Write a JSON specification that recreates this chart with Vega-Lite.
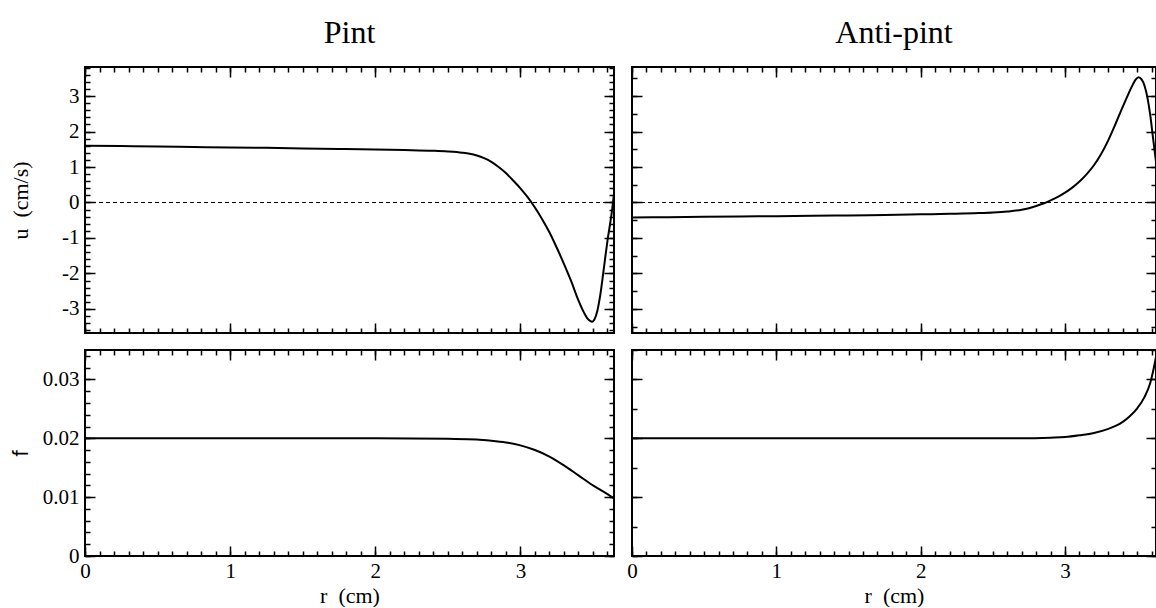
{
  "$schema": "https://vega.github.io/schema/vega-lite/v6.json",
  "background": "white",
  "padding": {"left": 8, "top": 16, "right": 0, "bottom": 0},
  "bounds": "flush",
  "columns": 2,
  "spacing": {"row": 17, "column": 18},
  "datasets": {
    "pint_u": [
      {"r": 0, "u": 1.6}, {"r": 0.25, "u": 1.59}, {"r": 0.5, "u": 1.58}, {"r": 0.75, "u": 1.565}, {"r": 1.0, "u": 1.55},
      {"r": 1.25, "u": 1.54}, {"r": 1.5, "u": 1.525}, {"r": 1.75, "u": 1.51}, {"r": 2.0, "u": 1.495}, {"r": 2.2, "u": 1.48},
      {"r": 2.4, "u": 1.46}, {"r": 2.5, "u": 1.44}, {"r": 2.6, "u": 1.405}, {"r": 2.65, "u": 1.375}, {"r": 2.7, "u": 1.325},
      {"r": 2.75, "u": 1.25}, {"r": 2.8, "u": 1.145}, {"r": 2.85, "u": 1.0}, {"r": 2.9, "u": 0.83}, {"r": 2.95, "u": 0.62},
      {"r": 3.0, "u": 0.4}, {"r": 3.05, "u": 0.15}, {"r": 3.1, "u": -0.14}, {"r": 3.15, "u": -0.47}, {"r": 3.2, "u": -0.84},
      {"r": 3.25, "u": -1.27}, {"r": 3.3, "u": -1.73}, {"r": 3.35, "u": -2.22}, {"r": 3.4, "u": -2.76}, {"r": 3.44, "u": -3.12},
      {"r": 3.46, "u": -3.26}, {"r": 3.48, "u": -3.34}, {"r": 3.495, "u": -3.36}, {"r": 3.51, "u": -3.3}, {"r": 3.53, "u": -3.06},
      {"r": 3.55, "u": -2.62}, {"r": 3.58, "u": -1.7}, {"r": 3.6, "u": -1.08}, {"r": 3.62, "u": -0.55}, {"r": 3.63, "u": -0.27},
      {"r": 3.645, "u": 0.25}
    ],
    "anti_u": [
      {"r": 0, "u": -0.42}, {"r": 0.25, "u": -0.415}, {"r": 0.5, "u": -0.405}, {"r": 0.75, "u": -0.395}, {"r": 1.0, "u": -0.385},
      {"r": 1.25, "u": -0.375}, {"r": 1.5, "u": -0.365}, {"r": 1.75, "u": -0.35}, {"r": 2.0, "u": -0.335}, {"r": 2.2, "u": -0.32},
      {"r": 2.4, "u": -0.3}, {"r": 2.5, "u": -0.283}, {"r": 2.6, "u": -0.255}, {"r": 2.7, "u": -0.205}, {"r": 2.75, "u": -0.16},
      {"r": 2.8, "u": -0.1}, {"r": 2.85, "u": -0.03}, {"r": 2.9, "u": 0.06}, {"r": 2.95, "u": 0.16}, {"r": 3.0, "u": 0.28},
      {"r": 3.05, "u": 0.42}, {"r": 3.1, "u": 0.59}, {"r": 3.15, "u": 0.8}, {"r": 3.2, "u": 1.05}, {"r": 3.25, "u": 1.37},
      {"r": 3.3, "u": 1.76}, {"r": 3.35, "u": 2.22}, {"r": 3.4, "u": 2.7}, {"r": 3.44, "u": 3.07}, {"r": 3.47, "u": 3.33},
      {"r": 3.49, "u": 3.47}, {"r": 3.51, "u": 3.53}, {"r": 3.53, "u": 3.47}, {"r": 3.55, "u": 3.3}, {"r": 3.57, "u": 2.97},
      {"r": 3.59, "u": 2.47}, {"r": 3.61, "u": 1.8}, {"r": 3.63, "u": 1.15}
    ],
    "pint_f": [
      {"r": 0, "f": 0.02}, {"r": 1.0, "f": 0.02}, {"r": 2.0, "f": 0.02}, {"r": 2.5, "f": 0.0199}, {"r": 2.7, "f": 0.0198},
      {"r": 2.8, "f": 0.0196}, {"r": 2.9, "f": 0.0193}, {"r": 3.0, "f": 0.0188}, {"r": 3.1, "f": 0.018}, {"r": 3.2, "f": 0.0169},
      {"r": 3.3, "f": 0.0154}, {"r": 3.4, "f": 0.0137}, {"r": 3.5, "f": 0.012}, {"r": 3.6, "f": 0.0105}, {"r": 3.645, "f": 0.0098}
    ],
    "anti_f": [
      {"r": 0, "f": 0.02}, {"r": 1.0, "f": 0.02}, {"r": 2.0, "f": 0.02}, {"r": 2.7, "f": 0.02}, {"r": 2.9, "f": 0.0201},
      {"r": 3.0, "f": 0.0202}, {"r": 3.1, "f": 0.0205}, {"r": 3.2, "f": 0.0209}, {"r": 3.3, "f": 0.0216}, {"r": 3.35, "f": 0.0221},
      {"r": 3.4, "f": 0.0228}, {"r": 3.45, "f": 0.0238}, {"r": 3.5, "f": 0.0251}, {"r": 3.55, "f": 0.027}, {"r": 3.59, "f": 0.0294},
      {"r": 3.61, "f": 0.0314}, {"r": 3.63, "f": 0.0338}
    ],
    "zero": [{"u": 0}]
  },
  "concat": [
    {
      "width": 529, "height": 266,
      "title": {"text": "Pint", "font": "Liberation Serif", "fontSize": 32, "fontWeight": "normal", "color": "black", "offset": 16, "anchor": "middle"},
      "layer": [
        {
          "data": {"name": "zero"},
          "mark": {"type": "rule", "color": "black", "strokeWidth": 1.2, "strokeDash": [4, 3]},
          "encoding": {"y": {"field": "u", "type": "quantitative", "axis": null, "scale": {"domain": [-3.68, 3.82], "nice": false, "zero": false}}}
        },
        {
          "data": {"name": "pint_u"},
          "mark": {"type": "line", "color": "black", "strokeWidth": 2, "clip": true, "interpolate": "monotone"},
          "encoding": {
            "x": {"field": "r", "type": "quantitative", "scale": {"domain": [0, 3.645], "nice": false, "zero": false},
              "axis": {"orient": "bottom", "values": [0, 1, 2, 3], "tickSize": -10, "labels": false, "title": null}},
            "y": {"field": "u", "type": "quantitative", "scale": {"domain": [-3.68, 3.82], "nice": false, "zero": false},
              "axis": {"orient": "left", "values": [-3, -2, -1, 0, 1, 2, 3], "tickSize": -10, "labelPadding": 16, "labelExpr": "'' + datum.value",
                "title": "u\u2002(cm/s)", "titleX": -65, "titleBaseline": "middle", "titleAlign": "center"}}
          }
        },
        {
          "data": {"name": "pint_u"},
          "mark": {"type": "line", "opacity": 0},
          "encoding": {
            "x": {"field": "r", "type": "quantitative", "axis": {"orient": "bottom", "tickCount": 40, "tickSize": -5, "labels": false, "title": null}},
            "y": {"field": "u", "type": "quantitative", "axis": {"orient": "left", "tickCount": 40, "tickSize": -5, "labels": false, "title": null}}
          }
        },
        {
          "data": {"name": "pint_u"},
          "mark": {"type": "line", "opacity": 0},
          "encoding": {
            "x": {"field": "r", "type": "quantitative", "axis": {"orient": "top", "values": [0, 1, 2, 3], "tickSize": -10, "labels": false, "title": null}},
            "y": {"field": "u", "type": "quantitative", "axis": {"orient": "right", "values": [-3, -2, -1, 0, 1, 2, 3], "tickSize": -10, "labels": false, "title": null}}
          }
        },
        {
          "data": {"name": "pint_u"},
          "mark": {"type": "line", "opacity": 0},
          "encoding": {
            "x": {"field": "r", "type": "quantitative", "axis": {"orient": "top", "tickCount": 40, "tickSize": -5, "labels": false, "title": null}},
            "y": {"field": "u", "type": "quantitative", "axis": {"orient": "right", "tickCount": 40, "tickSize": -5, "labels": false, "title": null}}
          }
        }
      ],
      "resolve": {"axis": {"x": "independent", "y": "independent"}}
    },
    {
      "width": 524, "height": 266,
      "title": {"text": "Anti-pint", "font": "Liberation Serif", "fontSize": 32, "fontWeight": "normal", "color": "black", "offset": 16, "anchor": "middle"},
      "layer": [
        {
          "data": {"name": "zero"},
          "mark": {"type": "rule", "color": "black", "strokeWidth": 1.2, "strokeDash": [4, 3]},
          "encoding": {"y": {"field": "u", "type": "quantitative", "axis": null, "scale": {"domain": [-3.68, 3.82], "nice": false, "zero": false}}}
        },
        {
          "data": {"name": "anti_u"},
          "mark": {"type": "line", "color": "black", "strokeWidth": 2, "clip": true, "interpolate": "monotone"},
          "encoding": {
            "x": {"field": "r", "type": "quantitative", "scale": {"domain": [0, 3.63], "nice": false, "zero": false},
              "axis": {"orient": "bottom", "values": [0, 1, 2, 3], "tickSize": -10, "labels": false, "title": null}},
            "y": {"field": "u", "type": "quantitative", "scale": {"domain": [-3.68, 3.82], "nice": false, "zero": false},
              "axis": {"orient": "left", "values": [-3, -2, -1, 0, 1, 2, 3], "tickSize": -10, "labels": false, "title": null}}
          }
        },
        {
          "data": {"name": "anti_u"},
          "mark": {"type": "line", "opacity": 0},
          "encoding": {
            "x": {"field": "r", "type": "quantitative", "axis": {"orient": "bottom", "tickCount": 40, "tickSize": -5, "labels": false, "title": null}},
            "y": {"field": "u", "type": "quantitative", "axis": {"orient": "left", "tickCount": 15, "tickSize": -5, "labels": false, "title": null}}
          }
        },
        {
          "data": {"name": "anti_u"},
          "mark": {"type": "line", "opacity": 0},
          "encoding": {
            "x": {"field": "r", "type": "quantitative", "axis": {"orient": "top", "values": [0, 1, 2, 3], "tickSize": -10, "labels": false, "title": null}},
            "y": {"field": "u", "type": "quantitative", "axis": {"orient": "right", "values": [-3, -2, -1, 0, 1, 2, 3], "tickSize": -10, "labels": false, "title": null}}
          }
        },
        {
          "data": {"name": "anti_u"},
          "mark": {"type": "line", "opacity": 0},
          "encoding": {
            "x": {"field": "r", "type": "quantitative", "axis": {"orient": "top", "tickCount": 40, "tickSize": -5, "labels": false, "title": null}},
            "y": {"field": "u", "type": "quantitative", "axis": {"orient": "right", "tickCount": 15, "tickSize": -5, "labels": false, "title": null}}
          }
        }
      ],
      "resolve": {"axis": {"x": "independent", "y": "independent"}}
    },
    {
      "width": 529, "height": 206,
      "data": {"name": "pint_f"},
      "layer": [
        {
          "mark": {"type": "line", "color": "black", "strokeWidth": 2, "clip": true, "interpolate": "monotone"},
          "encoding": {
            "x": {"field": "r", "type": "quantitative", "scale": {"domain": [0, 3.645], "nice": false, "zero": false},
              "axis": {"orient": "bottom", "values": [0, 1, 2, 3], "tickSize": -10, "labelPadding": 14, "labelExpr": "'' + datum.value",
                "title": "r\u2002(cm)", "titleY": 39, "titleBaseline": "middle"}},
            "y": {"field": "f", "type": "quantitative", "scale": {"domain": [0, 0.035], "nice": false, "zero": false},
              "axis": {"orient": "left", "values": [0, 0.01, 0.02, 0.03], "tickSize": -10, "labelPadding": 16, "labelExpr": "'' + datum.value",
                "title": "f", "titleFont": "Liberation Sans", "titleX": -65, "titleBaseline": "middle", "titleAlign": "center"}}
          }
        },
        {
          "mark": {"type": "line", "opacity": 0},
          "encoding": {
            "x": {"field": "r", "type": "quantitative", "axis": {"orient": "bottom", "tickCount": 40, "tickSize": -5, "labels": false, "title": null}},
            "y": {"field": "f", "type": "quantitative", "axis": {"orient": "left", "tickCount": 18, "tickSize": -5, "labels": false, "title": null}}
          }
        },
        {
          "mark": {"type": "line", "opacity": 0},
          "encoding": {
            "x": {"field": "r", "type": "quantitative", "axis": {"orient": "top", "values": [0, 1, 2, 3], "tickSize": -10, "labels": false, "title": null}},
            "y": {"field": "f", "type": "quantitative", "axis": {"orient": "right", "values": [0, 0.01, 0.02, 0.03], "tickSize": -10, "labels": false, "title": null}}
          }
        },
        {
          "mark": {"type": "line", "opacity": 0},
          "encoding": {
            "x": {"field": "r", "type": "quantitative", "axis": {"orient": "top", "tickCount": 40, "tickSize": -5, "labels": false, "title": null}},
            "y": {"field": "f", "type": "quantitative", "axis": {"orient": "right", "tickCount": 18, "tickSize": -5, "labels": false, "title": null}}
          }
        }
      ],
      "resolve": {"axis": {"x": "independent", "y": "independent"}}
    },
    {
      "width": 524, "height": 206,
      "data": {"name": "anti_f"},
      "layer": [
        {
          "mark": {"type": "line", "color": "black", "strokeWidth": 2, "clip": true, "interpolate": "monotone"},
          "encoding": {
            "x": {"field": "r", "type": "quantitative", "scale": {"domain": [0, 3.63], "nice": false, "zero": false},
              "axis": {"orient": "bottom", "values": [0, 1, 2, 3], "tickSize": -10, "labelPadding": 14, "labelExpr": "'' + datum.value",
                "title": "r\u2002(cm)", "titleY": 39, "titleBaseline": "middle"}},
            "y": {"field": "f", "type": "quantitative", "scale": {"domain": [0, 0.035], "nice": false, "zero": false},
              "axis": {"orient": "left", "values": [0, 0.01, 0.02, 0.03], "tickSize": -10, "labels": false, "title": null}}
          }
        },
        {
          "mark": {"type": "line", "opacity": 0},
          "encoding": {
            "x": {"field": "r", "type": "quantitative", "axis": {"orient": "bottom", "tickCount": 40, "tickSize": -5, "labels": false, "title": null}},
            "y": {"field": "f", "type": "quantitative", "axis": {"orient": "left", "tickCount": 7, "tickSize": -5, "labels": false, "title": null}}
          }
        },
        {
          "mark": {"type": "line", "opacity": 0},
          "encoding": {
            "x": {"field": "r", "type": "quantitative", "axis": {"orient": "top", "values": [0, 1, 2, 3], "tickSize": -10, "labels": false, "title": null}},
            "y": {"field": "f", "type": "quantitative", "axis": {"orient": "right", "values": [0, 0.01, 0.02, 0.03], "tickSize": -10, "labels": false, "title": null}}
          }
        },
        {
          "mark": {"type": "line", "opacity": 0},
          "encoding": {
            "x": {"field": "r", "type": "quantitative", "axis": {"orient": "top", "tickCount": 40, "tickSize": -5, "labels": false, "title": null}},
            "y": {"field": "f", "type": "quantitative", "axis": {"orient": "right", "tickCount": 7, "tickSize": -5, "labels": false, "title": null}}
          }
        }
      ],
      "resolve": {"axis": {"x": "independent", "y": "independent"}}
    }
  ],
  "config": {
    "view": {"stroke": "black", "strokeWidth": 2},
    "axis": {
      "domain": false, "grid": false, "labelFlush": false, "labelOverlap": false,
      "labelFont": "Liberation Serif", "labelFontSize": 21, "labelColor": "black",
      "tickColor": "black", "tickWidth": 1.5,
      "titleFont": "Liberation Serif", "titleFontSize": 22, "titleFontWeight": "normal", "titleColor": "black"
    }
  }
}
